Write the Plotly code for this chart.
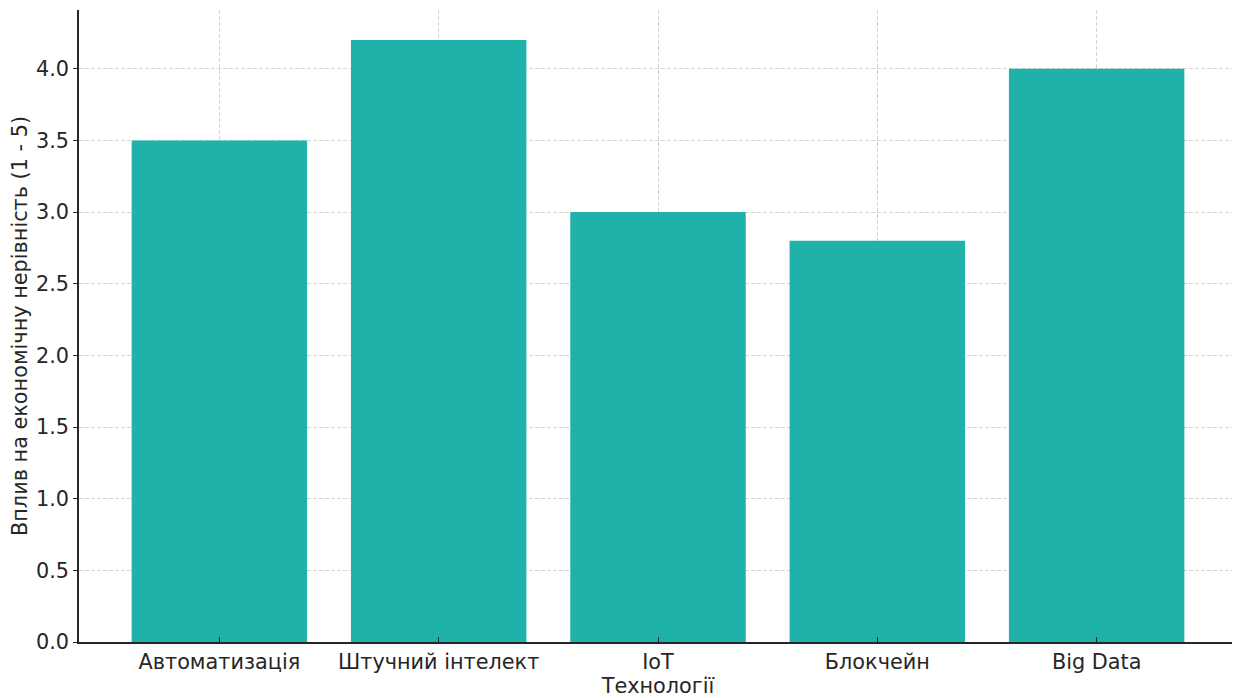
import plotly.graph_objects as go

categories = ["Автоматизація", "Штучний інтелект", "IoT", "Блокчейн", "Big Data"]
values = [3.5, 4.2, 3.0, 2.8, 4.0]
y_ticks = [0.0, 0.5, 1.0, 1.5, 2.0, 2.5, 3.0, 3.5, 4.0]

fig = go.Figure(go.Bar(
    x=list(range(len(categories))), y=values,
    marker=dict(color="#20B2AA", line=dict(width=0)),
    width=0.8,
))

font = dict(family="DejaVu Sans", size=20.8, color="#262626")
fig.update_layout(
    width=1232, height=690,
    margin=dict(l=71, r=3, t=2, b=56),
    paper_bgcolor="white", plot_bgcolor="white",
    font=font, showlegend=False,
)
fig.update_xaxes(
    range=[-0.64, 4.64], tickmode="array",
    tickvals=list(range(len(categories))), ticktext=categories,
    showgrid=True, gridcolor="#d4d4d4", griddash="4px,2px", gridwidth=1,
    showline=True, linecolor="#262626", linewidth=1.5,
    ticks="inside", ticklen=5, tickcolor="#262626",
    layer="above traces", zeroline=False,
    title=dict(text="Технології", standoff=1, font=font),
)
fig.update_yaxes(
    range=[0, 4.41], tickmode="array", tickvals=y_ticks,
    ticktext=[f"{v:.1f}" for v in y_ticks],
    showgrid=True, gridcolor="#d4d4d4", griddash="4px,2px", gridwidth=1,
    showline=True, linecolor="#262626", linewidth=1.5,
    ticks="outside", ticklen=4, tickcolor="#262626",
    layer="above traces", zeroline=False,
    title=dict(text="Вплив на економічну нерівність (1 - 5)", standoff=8, font=font),
)
fig.write_html("out.html")
